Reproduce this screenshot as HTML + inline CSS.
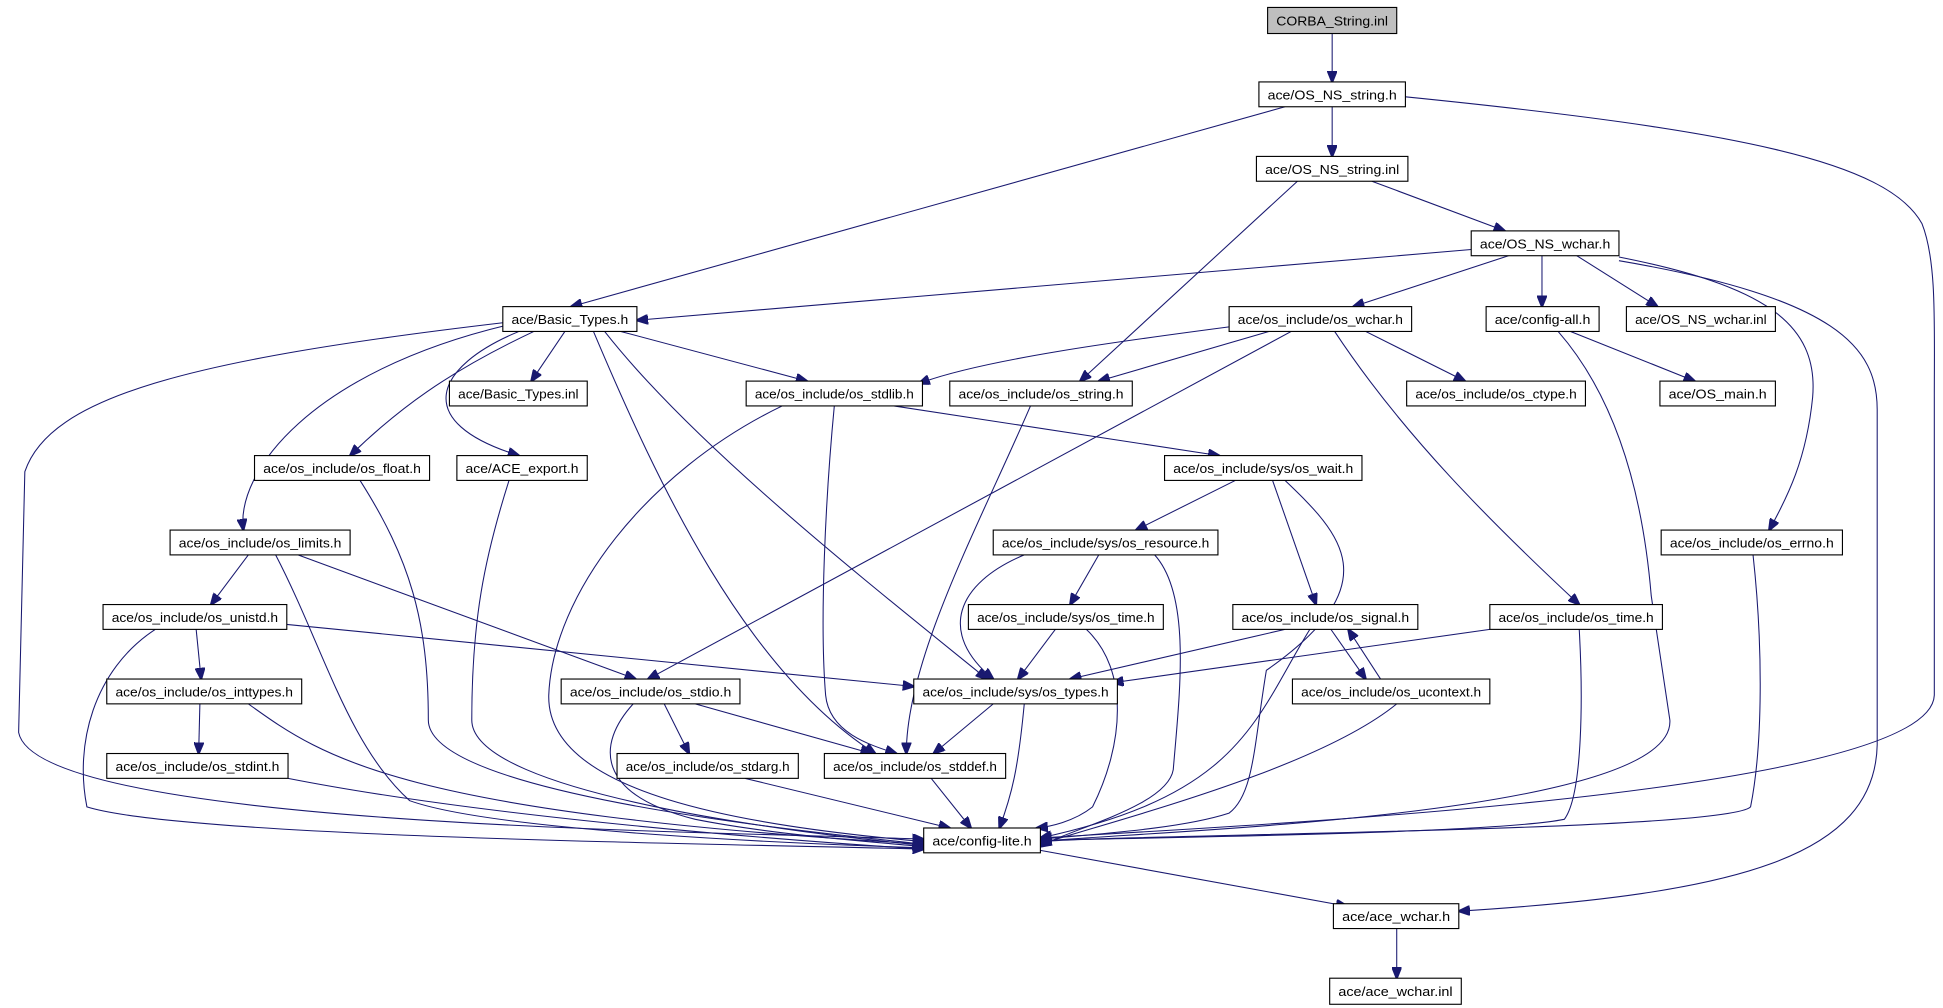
<!DOCTYPE html>
<html><head><meta charset="utf-8"><style>
html,body{margin:0;padding:0;background:#fff;}
svg{display:block;}
text{font-family:"Liberation Sans",sans-serif;font-size:10.5px;fill:#000;}
.e{fill:none;stroke:#191970;stroke-width:0.85;}
.n{fill:#fff;stroke:#000;stroke-width:0.9;}
</style></head><body>
<svg width="1943" height="1008" viewBox="0 0 1565 812" preserveAspectRatio="none" xmlns="http://www.w3.org/2000/svg">
<defs><marker id="a" markerUnits="userSpaceOnUse" markerWidth="10" markerHeight="8" refX="9" refY="4" orient="auto"><path d="M0,0 L10,4 L0,8 z" fill="#191970" stroke="#191970"/></marker></defs>
<g marker-end="url(#a)">
<path class="e" d="M1073,27 L1073,66"/>
<path class="e" d="M1073,86 L1073,126"/>
<path class="e" d="M1035,86 L460,247"/>
<path class="e" d="M1132,78 C1400,105 1520,130 1548,180 C1560,210 1558,260 1558,320 L1558,560 C1555,640 1000,665 838,675"/>
<path class="e" d="M1105,146 L1212,186"/>
<path class="e" d="M1045,146 L870,307"/>
<path class="e" d="M1185,201 L513,258"/>
<path class="e" d="M1215,206 L1090,247"/>
<path class="e" d="M1242,206 L1242,247"/>
<path class="e" d="M1270,206 L1335,247"/>
<path class="e" d="M1304,207 C1420,230 1465,260 1460,320 C1455,370 1440,400 1425,427"/>
<path class="e" d="M1304,210 C1480,240 1512,280 1512,330 L1512,600 C1510,690 1400,720 1175,734"/>
<path class="e" d="M455,267 L428,307"/>
<path class="e" d="M500,267 L650,307"/>
<path class="e" d="M430,267 C360,300 320,330 282,367"/>
<path class="e" d="M418,267 C350,295 330,340 418,367"/>
<path class="e" d="M408,262 C250,300 190,380 196,427"/>
<path class="e" d="M405,260 C150,290 40,320 20,380 L15,590 C30,668 600,670 744,676"/>
<path class="e" d="M478,267 C530,390 600,540 705,607"/>
<path class="e" d="M487,267 C560,360 700,470 795,547"/>
<path class="e" d="M1000,262 C900,275 790,290 740,309"/>
<path class="e" d="M1022,267 L885,307"/>
<path class="e" d="M1100,267 L1180,307"/>
<path class="e" d="M1040,267 L522,547"/>
<path class="e" d="M1075,267 C1130,350 1200,420 1272,487"/>
<path class="e" d="M1265,267 L1365,307"/>
<path class="e" d="M1255,267 C1310,330 1325,420 1330,480 L1345,580 C1350,660 900,670 838,678"/>
<path class="e" d="M720,327 L982,367"/>
<path class="e" d="M630,327 C520,380 445,480 442,560 C440,640 600,665 744,678"/>
<path class="e" d="M672,327 C665,400 660,500 665,560 C668,590 700,600 722,607"/>
<path class="e" d="M830,327 C790,420 730,530 730,607"/>
<path class="e" d="M290,387 C330,450 345,500 345,580 C345,640 650,670 744,680"/>
<path class="e" d="M410,387 C390,450 380,500 380,580 C380,640 650,672 744,681"/>
<path class="e" d="M995,387 L915,427"/>
<path class="e" d="M1025,387 L1060,487"/>
<path class="e" d="M1035,387 C1080,430 1120,470 1020,540 C1010,600 1010,640 990,655 C950,668 880,672 838,676"/>
<path class="e" d="M200,447 L170,487"/>
<path class="e" d="M240,447 L512,547"/>
<path class="e" d="M222,447 C260,520 280,600 330,645 C400,670 650,680 744,683"/>
<path class="e" d="M885,447 L862,487"/>
<path class="e" d="M825,447 C770,470 755,510 800,547"/>
<path class="e" d="M930,447 C960,480 950,560 945,620 C940,650 860,668 838,682"/>
<path class="e" d="M1412,447 C1420,520 1420,600 1410,650 C1390,670 900,672 838,678"/>
<path class="e" d="M158,507 L162,547"/>
<path class="e" d="M231,503 L736,553"/>
<path class="e" d="M125,507 C75,540 60,600 70,650 C150,675 600,680 744,684"/>
<path class="e" d="M850,507 L820,547"/>
<path class="e" d="M875,507 C910,540 905,600 880,650 C865,662 845,666 835,667"/>
<path class="e" d="M1035,507 L862,547"/>
<path class="e" d="M1072,507 L1100,547"/>
<path class="e" d="M1112,547 L1086,507"/>
<path class="e" d="M1055,507 C1010,580 1000,640 838,675"/>
<path class="e" d="M1200,507 L896,550"/>
<path class="e" d="M1272,507 C1275,560 1275,640 1260,660 C1200,672 900,675 838,677"/>
<path class="e" d="M161,567 L160,607"/>
<path class="e" d="M200,567 C260,610 320,655 744,680"/>
<path class="e" d="M535,567 L555,607"/>
<path class="e" d="M560,567 L702,607"/>
<path class="e" d="M510,567 C480,600 480,640 560,660 C620,672 700,678 744,682"/>
<path class="e" d="M800,567 L752,607"/>
<path class="e" d="M825,567 C820,620 815,640 805,667"/>
<path class="e" d="M1125,567 C1060,620 900,660 838,680"/>
<path class="e" d="M232,627 C400,660 650,678 744,684"/>
<path class="e" d="M600,627 L765,667"/>
<path class="e" d="M750,627 L782,667"/>
<path class="e" d="M838,685 L1085,730"/>
<path class="e" d="M1125,748 L1125,788"/>
</g>
<g>
<rect x="1021" y="6" width="104" height="21" fill="#bfbfbf" stroke="#000" stroke-width="0.9"/><text x="1073" y="20.5" text-anchor="middle" textLength="90" lengthAdjust="spacingAndGlyphs">CORBA_String.inl</text>
<rect class="n" x="1014" y="66" width="118" height="20"/><text x="1073" y="80" text-anchor="middle" textLength="104" lengthAdjust="spacingAndGlyphs">ace/OS_NS_string.h</text>
<rect class="n" x="1012" y="126" width="122" height="20"/><text x="1073" y="140" text-anchor="middle" textLength="108" lengthAdjust="spacingAndGlyphs">ace/OS_NS_string.inl</text>
<rect class="n" x="1185" y="186" width="119" height="20"/><text x="1244.5" y="200" text-anchor="middle" textLength="105" lengthAdjust="spacingAndGlyphs">ace/OS_NS_wchar.h</text>
<rect class="n" x="405" y="247" width="108" height="20"/><text x="459" y="261" text-anchor="middle" textLength="94" lengthAdjust="spacingAndGlyphs">ace/Basic_Types.h</text>
<rect class="n" x="990" y="247" width="147" height="20"/><text x="1063.5" y="261" text-anchor="middle" textLength="133" lengthAdjust="spacingAndGlyphs">ace/os_include/os_wchar.h</text>
<rect class="n" x="1197" y="247" width="91" height="20"/><text x="1242.5" y="261" text-anchor="middle" textLength="77" lengthAdjust="spacingAndGlyphs">ace/config-all.h</text>
<rect class="n" x="1310" y="247" width="120" height="20"/><text x="1370" y="261" text-anchor="middle" textLength="106" lengthAdjust="spacingAndGlyphs">ace/OS_NS_wchar.inl</text>
<rect class="n" x="362" y="307" width="111" height="20"/><text x="417.5" y="321" text-anchor="middle" textLength="97" lengthAdjust="spacingAndGlyphs">ace/Basic_Types.inl</text>
<rect class="n" x="601" y="307" width="142" height="20"/><text x="672" y="321" text-anchor="middle" textLength="128" lengthAdjust="spacingAndGlyphs">ace/os_include/os_stdlib.h</text>
<rect class="n" x="765" y="307" width="147" height="20"/><text x="838.5" y="321" text-anchor="middle" textLength="133" lengthAdjust="spacingAndGlyphs">ace/os_include/os_string.h</text>
<rect class="n" x="1133" y="307" width="144" height="20"/><text x="1205" y="321" text-anchor="middle" textLength="130" lengthAdjust="spacingAndGlyphs">ace/os_include/os_ctype.h</text>
<rect class="n" x="1337" y="307" width="93" height="20"/><text x="1383.5" y="321" text-anchor="middle" textLength="79" lengthAdjust="spacingAndGlyphs">ace/OS_main.h</text>
<rect class="n" x="205" y="367" width="141" height="20"/><text x="275.5" y="381" text-anchor="middle" textLength="127" lengthAdjust="spacingAndGlyphs">ace/os_include/os_float.h</text>
<rect class="n" x="368" y="367" width="105" height="20"/><text x="420.5" y="381" text-anchor="middle" textLength="91" lengthAdjust="spacingAndGlyphs">ace/ACE_export.h</text>
<rect class="n" x="938" y="367" width="159" height="20"/><text x="1017.5" y="381" text-anchor="middle" textLength="145" lengthAdjust="spacingAndGlyphs">ace/os_include/sys/os_wait.h</text>
<rect class="n" x="137" y="427" width="145" height="20"/><text x="209.5" y="441" text-anchor="middle" textLength="131" lengthAdjust="spacingAndGlyphs">ace/os_include/os_limits.h</text>
<rect class="n" x="800" y="427" width="181" height="20"/><text x="890.5" y="441" text-anchor="middle" textLength="167" lengthAdjust="spacingAndGlyphs">ace/os_include/sys/os_resource.h</text>
<rect class="n" x="1338" y="427" width="146" height="20"/><text x="1411" y="441" text-anchor="middle" textLength="132" lengthAdjust="spacingAndGlyphs">ace/os_include/os_errno.h</text>
<rect class="n" x="83" y="487" width="148" height="20"/><text x="157" y="501" text-anchor="middle" textLength="134" lengthAdjust="spacingAndGlyphs">ace/os_include/os_unistd.h</text>
<rect class="n" x="780" y="487" width="157" height="20"/><text x="858.5" y="501" text-anchor="middle" textLength="143" lengthAdjust="spacingAndGlyphs">ace/os_include/sys/os_time.h</text>
<rect class="n" x="993" y="487" width="149" height="20"/><text x="1067.5" y="501" text-anchor="middle" textLength="135" lengthAdjust="spacingAndGlyphs">ace/os_include/os_signal.h</text>
<rect class="n" x="1200" y="487" width="139" height="20"/><text x="1269.5" y="501" text-anchor="middle" textLength="125" lengthAdjust="spacingAndGlyphs">ace/os_include/os_time.h</text>
<rect class="n" x="86" y="547" width="157" height="20"/><text x="164.5" y="561" text-anchor="middle" textLength="143" lengthAdjust="spacingAndGlyphs">ace/os_include/os_inttypes.h</text>
<rect class="n" x="452" y="547" width="144" height="20"/><text x="524" y="561" text-anchor="middle" textLength="130" lengthAdjust="spacingAndGlyphs">ace/os_include/os_stdio.h</text>
<rect class="n" x="736" y="547" width="164" height="20"/><text x="818" y="561" text-anchor="middle" textLength="150" lengthAdjust="spacingAndGlyphs">ace/os_include/sys/os_types.h</text>
<rect class="n" x="1041" y="547" width="159" height="20"/><text x="1120.5" y="561" text-anchor="middle" textLength="145" lengthAdjust="spacingAndGlyphs">ace/os_include/os_ucontext.h</text>
<rect class="n" x="86" y="607" width="146" height="20"/><text x="159" y="621" text-anchor="middle" textLength="132" lengthAdjust="spacingAndGlyphs">ace/os_include/os_stdint.h</text>
<rect class="n" x="497" y="607" width="146" height="20"/><text x="570" y="621" text-anchor="middle" textLength="132" lengthAdjust="spacingAndGlyphs">ace/os_include/os_stdarg.h</text>
<rect class="n" x="664" y="607" width="146" height="20"/><text x="737" y="621" text-anchor="middle" textLength="132" lengthAdjust="spacingAndGlyphs">ace/os_include/os_stddef.h</text>
<rect class="n" x="744" y="667" width="94" height="20"/><text x="791" y="681" text-anchor="middle" textLength="80" lengthAdjust="spacingAndGlyphs">ace/config-lite.h</text>
<rect class="n" x="1074" y="728" width="101" height="20"/><text x="1124.5" y="742" text-anchor="middle" textLength="87" lengthAdjust="spacingAndGlyphs">ace/ace_wchar.h</text>
<rect class="n" x="1071" y="788" width="106" height="21"/><text x="1124" y="802.5" text-anchor="middle" textLength="92" lengthAdjust="spacingAndGlyphs">ace/ace_wchar.inl</text>
</g>
</svg>
</body></html>
